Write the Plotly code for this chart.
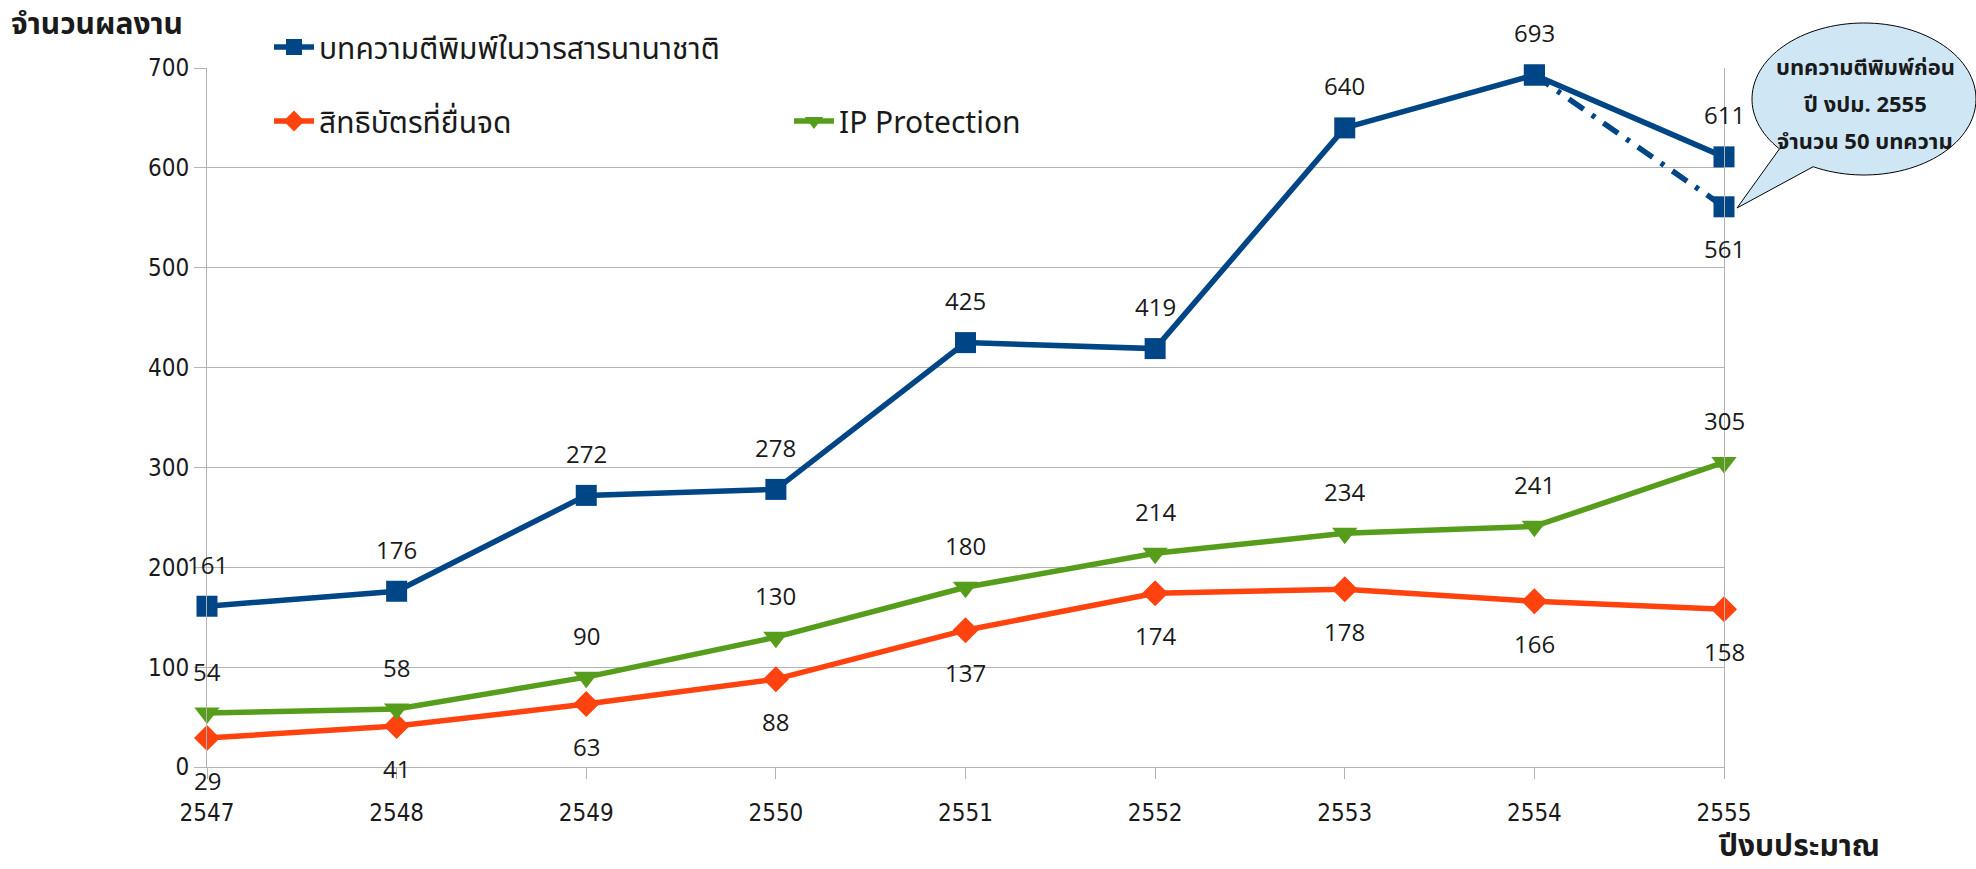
import plotly.graph_objects as go
import numpy as np

years = [2547, 2548, 2549, 2550, 2551, 2552, 2553, 2554, 2555]
articles = [161, 176, 272, 278, 425, 419, 640, 693, 611]
patents = [29, 41, 63, 88, 137, 174, 178, 166, 158]
ip_protection = [54, 58, 90, 130, 180, 214, 234, 241, 305]
adj_years = [2554, 2555]
adj_articles = [693, 561]

name_articles = "บทความตีพิมพ์ในวารสารนานาชาติ"
name_patents = "สิทธิบัตรที่ยื่นจด"
name_ip = "IP Protection"
callout_lines = ["บทความตีพิมพ์ก่อน", "ปี งปม. 2555", "จำนวน 50 บทความ"]
y_title = "จำนวนผลงาน"
x_title = "ปีงบประมาณ"

BLUE = "#004586"
ORANGE = "#ff420e"
GREEN = "#579d1c"
GRID = "#b3b3b3"
THAI = "Noto Sans Thai, Noto Sans Thai UI, Loma, Garuda, Noto Sans, sans-serif"
NUM = "DejaVu Sans Condensed, Liberation Sans Narrow, Roboto Condensed, DejaVu Sans, sans-serif"
LBL = "Open Sans, Noto Sans, sans-serif"

W, H = 1976, 869
L, R, T, B = 207, 1724, 68, 767
def px(x):
    return (x - L) / (R - L)
def py(y):
    return (B - y) / (B - T)

fig = go.Figure()
fig.add_trace(go.Scatter(x=adj_years, y=adj_articles, mode="lines+markers",
                         line=dict(color=BLUE, width=5.5, dash="18px,10px,4px,10px"),
                         marker=dict(symbol="square", size=21, color=BLUE),
                         showlegend=False, cliponaxis=False, hoverinfo="skip"))
fig.add_trace(go.Scatter(x=years, y=articles, mode="lines+markers", name=name_articles,
                         line=dict(color=BLUE, width=5.5),
                         marker=dict(symbol="square", size=21, color=BLUE),
                         cliponaxis=False, legend="legend"))
fig.add_trace(go.Scatter(x=years, y=patents, mode="lines+markers", name=name_patents,
                         line=dict(color=ORANGE, width=5.5),
                         marker=dict(symbol="diamond", size=20, color=ORANGE),
                         cliponaxis=False, legend="legend2"))
fig.add_trace(go.Scatter(x=years, y=ip_protection, mode="lines+markers", name=name_ip,
                         line=dict(color=GREEN, width=5.5),
                         marker=dict(symbol="triangle-down", size=22, color=GREEN),
                         cliponaxis=False, legend="legend3"))

anns = []
def lab(x, y, shift):
    anns.append(dict(x=x, y=y, xref="x", yref="y", text=str(y), showarrow=False,
                     yshift=shift, font=dict(family=LBL, size=24, color="#1a1a1a")))
for x, y in zip(years, articles):
    lab(x, y, 42)
lab(adj_years[1], adj_articles[1], -42)
for x, y in zip(years, patents):
    lab(x, y, -42)
for x, y in zip(years, ip_protection):
    lab(x, y, 42)

# axis titles
anns.append(dict(x=px(9), y=py(25), xref="paper", yref="paper", text=y_title, showarrow=False,
                 xanchor="left", yanchor="middle", font=dict(family=THAI, size=30, color="#1a1a1a", weight="bold")))
anns.append(dict(x=px(1716), y=py(847), xref="paper", yref="paper", text=x_title, showarrow=False,
                 xanchor="left", yanchor="middle", font=dict(family=THAI, size=30, color="#1a1a1a", weight="bold")))

# callout bubble
cx, cy, rx, ry = 1864, 99, 112, 76
tip = (1737, 208)
angs = np.deg2rad(np.linspace(139, 477, 120))
pts = [(cx + rx * np.cos(a), cy + ry * np.sin(a)) for a in angs]
path = "M " + " L ".join(f"{px(x):.5f},{py(y):.5f}" for x, y in pts)
path += f" L {px(tip[0]):.5f},{py(tip[1]):.5f} Z"
fig.add_shape(type="path", path=path, xref="paper", yref="paper",
              fillcolor="#cfe7f5", line=dict(color="#000000", width=1), layer="above")
for txt, yy in zip(callout_lines, [68, 105, 143]):
    anns.append(dict(x=px(1865), y=py(yy), xref="paper", yref="paper", text=txt, showarrow=False,
                     xanchor="center", yanchor="middle",
                     font=dict(family=THAI, size=22, color="#1a1a1a", weight="bold")))

legfont = dict(family=THAI, size=30, color="#1a1a1a")
def leg(x, y):
    return dict(x=px(x), y=py(y), xanchor="left", yanchor="middle", bgcolor="rgba(0,0,0,0)",
                borderwidth=0, font=legfont, itemwidth=40, tracegroupgap=0)

fig.update_layout(
    width=W, height=H,
    margin=dict(l=L, r=W - R, t=T, b=H - B, autoexpand=False),
    paper_bgcolor="white", plot_bgcolor="white",
    xaxis=dict(range=[2547, 2555], tickmode="array", tickvals=years, ticktext=[str(y) for y in years],
               showgrid=False, zeroline=False, showline=True, linecolor=GRID, linewidth=1,
               ticks="outside", ticklen=11, tickcolor=GRID, ticklabelstandoff=13,
               tickfont=dict(family=NUM, size=24, color="#1a1a1a")),
    yaxis=dict(range=[0, 700], tickmode="linear", tick0=0, dtick=100,
               showgrid=True, gridcolor=GRID, gridwidth=1, zeroline=False,
               showline=True, mirror=True, linecolor=GRID, linewidth=1,
               ticks="outside", ticklen=12, tickcolor=GRID,
               tickfont=dict(family=NUM, size=24, color="#1a1a1a")),
    legend=leg(269, 47),
    legend2=leg(269, 121),
    legend3=leg(789, 121),
    annotations=anns,
    showlegend=True,
)

fig.write_html("out.html", config={"displayModeBar": False},
               post_script="document.body.style.margin='0';")
